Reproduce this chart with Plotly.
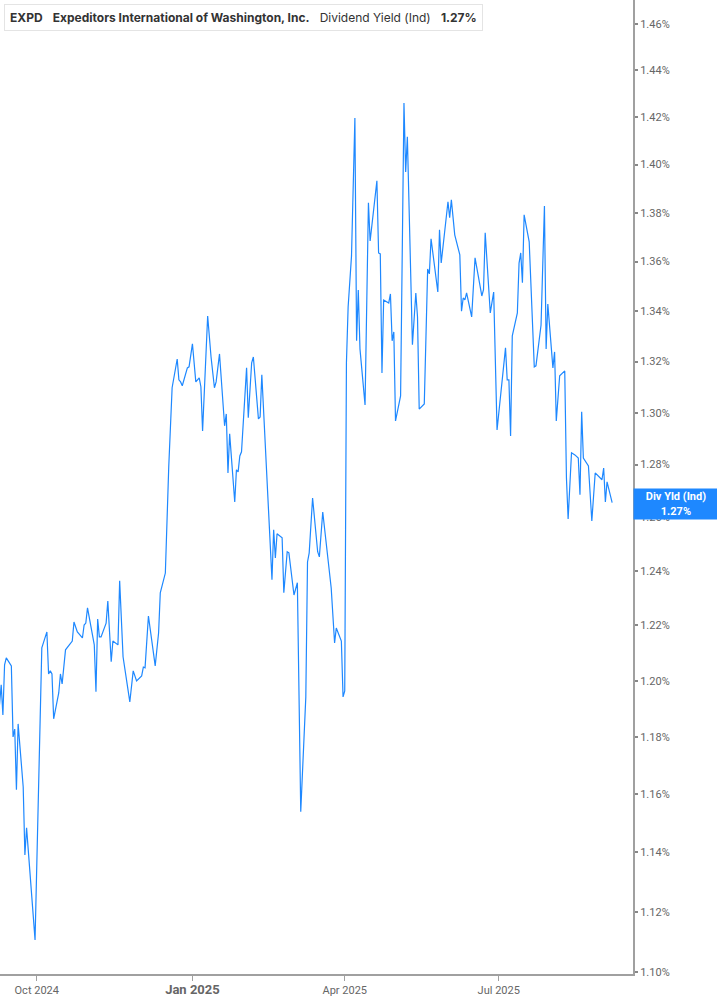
import math
import plotly.graph_objects as go

# dividend yield (indicated), EXPD, %
dates = [
    "2024-09-09", "2024-09-10", "2024-09-11", "2024-09-12", "2024-09-13", "2024-09-16", "2024-09-17",
    "2024-09-18", "2024-09-19", "2024-09-20", "2024-09-23", "2024-09-24", "2024-09-25", "2024-09-30",
    "2024-10-04", "2024-10-07", "2024-10-08", "2024-10-09", "2024-10-10", "2024-10-11", "2024-10-14",
    "2024-10-15", "2024-10-16", "2024-10-18", "2024-10-22", "2024-10-23", "2024-10-25", "2024-10-28",
    "2024-10-29", "2024-10-30", "2024-10-31",
    "2024-11-04", "2024-11-05", "2024-11-06", "2024-11-07", "2024-11-08", "2024-11-11", "2024-11-12",
    "2024-11-14", "2024-11-15", "2024-11-18", "2024-11-19", "2024-11-21", "2024-11-25", "2024-11-27",
    "2024-11-29",
    "2024-12-02", "2024-12-03", "2024-12-04", "2024-12-06", "2024-12-10", "2024-12-12", "2024-12-13",
    "2024-12-16", "2024-12-18", "2024-12-20", "2024-12-23", "2024-12-24", "2024-12-25", "2024-12-26",
    "2024-12-29", "2024-12-30",
    "2025-01-01", "2025-01-03", "2025-01-05", "2025-01-06", "2025-01-07", "2025-01-10", "2025-01-12",
    "2025-01-14", "2025-01-15", "2025-01-17", "2025-01-20", "2025-01-21", "2025-01-22", "2025-01-23",
    "2025-01-26", "2025-01-27", "2025-01-28", "2025-01-29", "2025-01-30",
    "2025-02-02", "2025-02-03", "2025-02-05", "2025-02-06", "2025-02-09", "2025-02-10", "2025-02-11",
    "2025-02-17", "2025-02-18", "2025-02-19", "2025-02-20", "2025-02-23", "2025-02-24", "2025-02-26",
    "2025-02-27",
    "2025-03-02", "2025-03-04", "2025-03-06", "2025-03-09", "2025-03-10", "2025-03-11", "2025-03-13",
    "2025-03-16", "2025-03-17", "2025-03-19", "2025-03-24", "2025-03-26", "2025-03-27", "2025-03-30",
    "2025-03-31",
    "2025-04-01", "2025-04-02", "2025-04-03", "2025-04-05", "2025-04-07", "2025-04-08", "2025-04-09",
    "2025-04-10", "2025-04-13", "2025-04-15", "2025-04-16", "2025-04-20", "2025-04-21", "2025-04-22",
    "2025-04-23", "2025-04-24", "2025-04-27", "2025-04-28", "2025-04-29", "2025-04-30",
    "2025-05-01", "2025-05-04", "2025-05-05", "2025-05-06", "2025-05-07", "2025-05-08", "2025-05-11",
    "2025-05-13", "2025-05-14", "2025-05-15", "2025-05-18", "2025-05-20", "2025-05-21", "2025-05-22",
    "2025-05-26", "2025-05-27", "2025-05-28", "2025-05-31",
    "2025-06-01", "2025-06-02", "2025-06-03", "2025-06-05", "2025-06-08", "2025-06-09", "2025-06-10",
    "2025-06-11", "2025-06-12", "2025-06-15", "2025-06-17", "2025-06-21", "2025-06-22", "2025-06-23",
    "2025-06-26", "2025-06-28", "2025-06-30",
    "2025-07-05", "2025-07-06", "2025-07-07", "2025-07-08", "2025-07-09", "2025-07-12", "2025-07-13",
    "2025-07-14", "2025-07-15", "2025-07-16", "2025-07-19", "2025-07-22", "2025-07-23", "2025-07-26",
    "2025-07-28", "2025-07-29", "2025-07-30",
    "2025-08-02", "2025-08-03", "2025-08-04", "2025-08-06", "2025-08-09", "2025-08-10", "2025-08-11",
    "2025-08-13", "2025-08-15", "2025-08-17", "2025-08-18", "2025-08-19", "2025-08-20", "2025-08-23",
    "2025-08-25", "2025-08-27", "2025-08-31",
    "2025-09-01", "2025-09-02", "2025-09-03", "2025-09-06",
]

div_yield = [
    1.1914, 1.1985, 1.1878, 1.2057, 1.2082, 1.2053, 1.1800, 1.1828, 1.1615, 1.1846, 1.1625, 1.1391,
    1.1484, 1.1106,
    1.2118, 1.2176, 1.2024, 1.2035, 1.2024, 1.1864, 1.1956, 1.2024, 1.1988, 1.2111, 1.2143, 1.2212,
    1.2176, 1.2154, 1.2201, 1.2208, 1.2264,
    1.2129, 1.1960, 1.2223, 1.2158, 1.2158, 1.2208, 1.2289, 1.2068, 1.2143, 1.2129, 1.2363, 1.2086,
    1.1924, 1.2035, 1.1999,
    1.2017, 1.2049, 1.2046, 1.2234, 1.2053, 1.2172, 1.2319, 1.2392, 1.2791, 1.3097, 1.3210, 1.3128,
    1.3120, 1.3105, 1.3175, 1.3179,
    1.3270, 1.3120, 1.3136, 1.3101, 1.2929, 1.3381, 1.3218, 1.3097, 1.3120, 1.3230, 1.2949, 1.2995,
    1.2768, 1.2918, 1.2658, 1.2780, 1.2772, 1.2833, 1.2849,
    1.3175, 1.2980, 1.3195, 1.3218, 1.2976, 1.2983, 1.3148, 1.2367, 1.2553, 1.2448, 1.2538, 1.2523,
    1.2319, 1.2471, 1.2467,
    1.2311, 1.2356, 1.1539, 1.1942, 1.2433, 1.2467, 1.2673, 1.2471, 1.2452, 1.2620, 1.2337, 1.2136,
    1.2190, 1.2143, 1.1942,
    1.1963, 1.3195, 1.3417, 1.3623, 1.4196, 1.3282, 1.3485, 1.3250, 1.3030, 1.3841, 1.3684, 1.3932,
    1.3635, 1.3631, 1.3155, 1.3445, 1.3433, 1.3469, 1.3282, 1.3317,
    1.2968, 1.3065, 1.3754, 1.4260, 1.3969, 1.4116, 1.3266, 1.3473, 1.3377, 1.3014, 1.3034, 1.3570,
    1.3550, 1.3693, 1.3477, 1.3730, 1.3594, 1.3795,
    1.3845, 1.3779, 1.3853, 1.3709, 1.3627, 1.3400, 1.3453, 1.3445, 1.3473, 1.3377, 1.3615, 1.3461,
    1.3486, 1.3717, 1.3393, 1.3477, 1.2933,
    1.3254, 1.3128, 1.3128, 1.2910, 1.3302, 1.3393, 1.3594, 1.3635, 1.3514, 1.3791, 1.3680, 1.3179,
    1.3183, 1.3345, 1.3828, 1.3250, 1.3429,
    1.3175, 1.3238, 1.2968, 1.3144, 1.3163, 1.2749, 1.2594, 1.2845, 1.2837, 1.2825, 1.2685, 1.3003,
    1.2825, 1.2795, 1.2586, 1.2768, 1.2742,
    1.2787, 1.2658, 1.2734, 1.2655,
]

y_ticks = [1.10, 1.12, 1.14, 1.16, 1.18, 1.20, 1.22, 1.24, 1.26, 1.28, 1.30, 1.32, 1.34, 1.36, 1.38,
           1.40, 1.42, 1.44, 1.46]
x_ticks = ["2024-10-01", "2025-01-01", "2025-04-01", "2025-07-01"]
x_labels = ["Oct 2024", "<span style='font-size:13px'><b>Jan 2025</b></span>", "Apr 2025", "Jul 2025"]

ticker = "EXPD"
company = "Expeditors International of Washington, Inc."
metric = "Dividend Yield (Ind)"
last_label = "1.27%"

blue = "#1e88ff"
axis_grey = "#a0a0a0"
nb = "\u00a0"

fig = go.Figure()
fig.add_trace(go.Scatter(
    x=dates, y=div_yield, mode="lines",
    line=dict(color=blue, width=1.2),
    hoverinfo="skip", showlegend=False,
))

# header box, top left
head = (f"<b>{ticker}</b>{nb*3}<b>{company}</b>{nb*3}{metric}{nb*3}<b>{last_label}</b>")
fig.add_annotation(
    xref="paper", yref="paper", x=0, y=1, xanchor="left", yanchor="top",
    xshift=4, yshift=-4, text=head, showarrow=False, align="left",
    font=dict(family="Inter", size=12, color="#333333"),
    bgcolor="white", bordercolor="#e4e4e4", borderwidth=1, borderpad=5,
)
fig.add_shape(
    type="rect", xref="paper", yref="paper",
    xsizemode="pixel", ysizemode="pixel", xanchor=0, yanchor=1,
    x0=4, x1=7, y0=-4, y1=-31, fillcolor=blue, line=dict(width=0),
)

# last value flag on the right axis
fig.add_annotation(
    xref="paper", yref="y", x=1, y=math.log10(div_yield[-1]),
    xanchor="left", yanchor="middle", xshift=0, yshift=-1,
    text=f"<b>Div Yld (Ind)<br>{last_label}</b>", showarrow=False,
    font=dict(family="Roboto", size=11, color="white"),
    bgcolor=blue, width=80, height=26, borderpad=2,
)

fig.update_layout(
    width=717, height=1005,
    margin=dict(l=0, r=84, t=0, b=31),
    plot_bgcolor="white", paper_bgcolor="white",
    font=dict(family="Roboto", size=11, color="#666666"),
    xaxis=dict(
        type="date",
        range=["2024-09-09 07:00", "2025-09-18 08:00"],
        tickvals=x_ticks, ticktext=x_labels,
        showgrid=False, zeroline=False,
        showline=True, linecolor=axis_grey, linewidth=2,
        ticks="outside", ticklen=5, tickcolor=axis_grey, tickwidth=1,
        tickfont=dict(family="Roboto", size=11, color="#666666"),
    ),
    yaxis=dict(
        type="log", side="right",
        range=[0.041134, 0.167466],
        tickvals=y_ticks, ticktext=[f"{v:.2f}%" for v in y_ticks],
        showgrid=False, zeroline=False,
        showline=True, linecolor=axis_grey, linewidth=2,
        ticks="outside", ticklen=3, tickcolor="#888888", tickwidth=2,
        tickfont=dict(family="Roboto", size=11, color="#666666"),
    ),
)

# page body has a default margin; drop it so the figure sits at the window corner
fig.write_html(
    "out.html",
    config={"displayModeBar": False},
    post_script="document.body.style.margin='0px';",
)
